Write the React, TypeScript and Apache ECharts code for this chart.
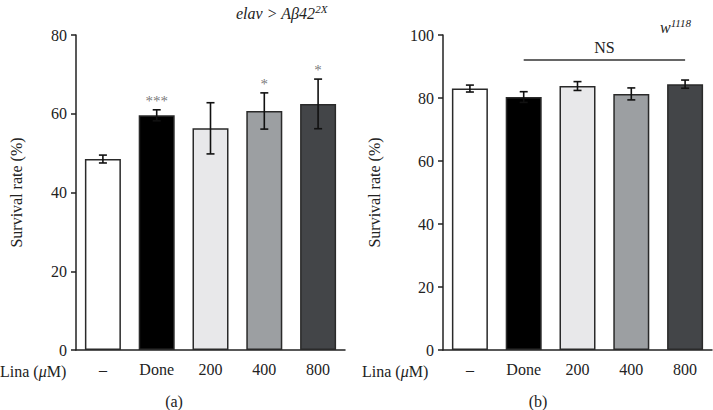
import React, { useEffect, useRef } from "react";
import * as echarts from "echarts";

const categories = ["–", "Done", "200", "400", "800"];
const meansA = [48.5, 59.6, 56.3, 60.7, 62.5];
const errA = [1.0, 1.4, 6.5, 4.6, 6.3];
const starsA = ["", "***", "", "*", "*"];
const meansB = [83.0, 80.3, 83.8, 81.3, 84.4];
const errB = [1.1, 1.7, 1.4, 1.9, 1.3];
const barColors = ["#ffffff", "#000000", "#e8e8ea", "#9c9fa2", "#434548"];
const yTicksA = { min: 0, max: 80, interval: 20 };
const yTicksB = { min: 0, max: 100, interval: 20 };
const nsLevel = 92;

const FONT = "'Liberation Serif', 'DejaVu Serif', serif";
const AXIS = "#222";
const FS = 16;

function makeErrSeries(idx: number, means: number[], errs: number[]) {
  return {
    type: "custom",
    xAxisIndex: idx,
    yAxisIndex: idx,
    z: 5,
    itemStyle: { color: "#111" },
    data: means.map((m, i) => [i, m, errs[i]]),
    renderItem: (params: any, api: any) => {
      const x = api.value(0);
      const m = api.value(1);
      const e = api.value(2);
      const top = api.coord([x, m + e]);
      const bot = api.coord([x, m - e]);
      const cw = 4;
      const st = { stroke: "#111", lineWidth: 1.6 };
      return {
        type: "group",
        children: [
          { type: "line", shape: { x1: top[0], y1: top[1], x2: bot[0], y2: bot[1] }, style: st },
          { type: "line", shape: { x1: top[0] - cw, y1: top[1], x2: top[0] + cw, y2: top[1] }, style: st },
          { type: "line", shape: { x1: bot[0] - cw, y1: bot[1], x2: bot[0] + cw, y2: bot[1] }, style: st },
        ],
      };
    },
  };
}

export default function App() {
  const ref = useRef<HTMLDivElement>(null);
  useEffect(() => {
    if (!ref.current) return;
    const chart = echarts.init(ref.current, undefined, { renderer: "svg" });
    const xAxisBase = (gi: number) => ({
      type: "category",
      gridIndex: gi,
      data: categories,
      axisLine: { lineStyle: { color: AXIS, width: 1.5 } },
      axisTick: { alignWithLabel: true, length: 5, lineStyle: { color: AXIS, width: 1.5 } },
      axisLabel: { color: "#222", fontFamily: FONT, fontSize: FS, margin: 11 },
    });
    const yAxisBase = (gi: number, t: any, gap: number) => ({
      type: "value",
      gridIndex: gi,
      min: t.min,
      max: t.max,
      interval: t.interval,
      name: "Survival rate (%)",
      nameLocation: "middle",
      nameGap: gap,
      nameTextStyle: { color: "#222", fontFamily: FONT, fontSize: FS },
      axisLine: { show: true, lineStyle: { color: AXIS, width: 1.5 } },
      axisTick: { show: true, length: 5, lineStyle: { color: AXIS, width: 1.5 } },
      axisLabel: { color: "#222", fontFamily: FONT, fontSize: FS, margin: 9 },
      splitLine: { show: false },
    });
    const barSeries = (idx: number, means: number[]) => ({
      type: "bar",
      xAxisIndex: idx,
      yAxisIndex: idx,
      barWidth: 36,
      data: means.map((v, i) => ({
        value: v,
        itemStyle: { color: barColors[i], borderColor: "#2a2a2a", borderWidth: 1.5 },
      })),
    });
    const starSeries = {
      type: "scatter",
      xAxisIndex: 0,
      yAxisIndex: 0,
      symbolSize: 1,
      itemStyle: { color: "rgba(0,0,0,0)" },
      silent: true,
      z: 6,
      data: meansA.map((m, i) => ({
        value: [i, m + errA[i]],
        label: {
          show: starsA[i] !== "",
          formatter: starsA[i],
          position: "top",
          distance: 1,
          color: "#555555",
          fontFamily: FONT,
          fontSize: 15,
        },
      })),
    };
    const nsSeries: any = makeErrSeries(1, meansB, errB);
    nsSeries.markLine = {
      symbol: "none",
      silent: true,
      lineStyle: { color: "#333", width: 1.5, type: "solid" },
      label: {
        show: true,
        formatter: "NS",
        position: "middle",
        distance: 5,
        color: "#222",
        fontFamily: FONT,
        fontSize: FS,
      },
      data: [[{ coord: [1, nsLevel] }, { coord: [4, nsLevel] }]],
    };
    const labelText = (x: number, y: number, text: string, rich?: any, align = "left") => ({
      type: "text",
      x,
      y,
      style: {
        text,
        align,
        verticalAlign: "middle",
        fill: "#222",
        fontFamily: FONT,
        fontSize: FS,
        rich,
      },
    });
    const linaRich = {
      n: { fontFamily: FONT, fontSize: FS, color: "#222" },
      m: { fontFamily: FONT, fontSize: FS, fontStyle: "italic", color: "#222" },
    };
    const titleRich = {
      i: { fontFamily: FONT, fontSize: FS, fontStyle: "italic", color: "#222", lineHeight: 18, verticalAlign: "bottom" },
      s: { fontFamily: FONT, fontSize: 11, fontStyle: "italic", color: "#222", lineHeight: 18, verticalAlign: "top", padding: [0, 0, 3, 0] },
    };
    chart.setOption({
      animation: false,
      backgroundColor: "#ffffff",
      grid: [
        { left: 76, top: 35, width: 269, height: 315 },
        { left: 443, top: 35, width: 269, height: 315 },
      ],
      xAxis: [xAxisBase(0), xAxisBase(1)],
      yAxis: [yAxisBase(0, yTicksA, 52), yAxisBase(1, yTicksB, 61)],
      series: [
        barSeries(0, meansA),
        makeErrSeries(0, meansA, errA),
        starSeries,
        barSeries(1, meansB),
        nsSeries,
      ],
      graphic: [
        labelText(0, 371, "{n|Lina (}{m|μ}{n|M)}", linaRich),
        labelText(362, 371, "{n|Lina (}{m|μ}{n|M)}", linaRich),
        labelText(174, 401, "(a)", undefined, "center"),
        labelText(538, 401, "(b)", undefined, "center"),
        labelText(236, 12, "{i|elav > Aβ42}{s|2X}", titleRich),
        labelText(660, 26, "{i|w}{s|1118}", titleRich),
      ],
    });
    return () => chart.dispose();
  }, []);
  return (
    <div
      ref={ref}
      style={{ position: "fixed", left: 0, top: 0, width: 713, height: 410, background: "#fff" }}
    />
  );
}
